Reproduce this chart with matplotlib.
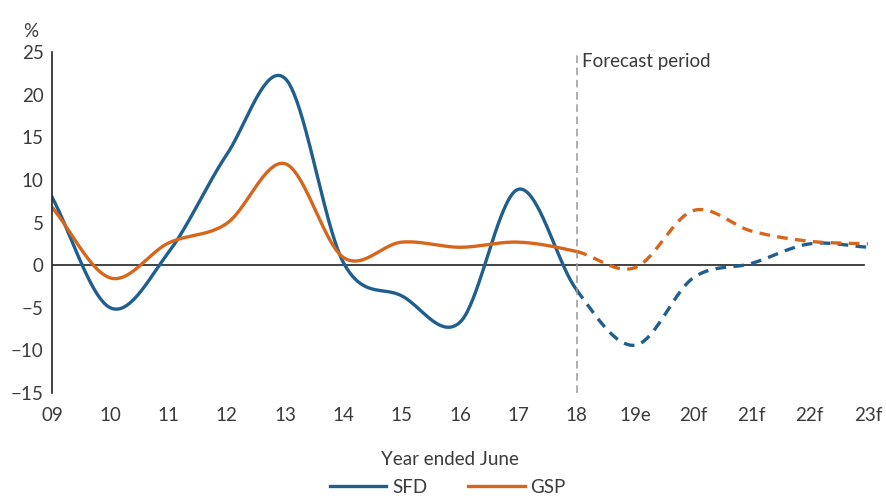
import numpy as np
import matplotlib.pyplot as plt

plt.rcParams['font.family'] = ['Lato', 'DejaVu Sans']

years = ['09', '10', '11', '12', '13', '14', '15', '16', '17', '18',
         '19e', '20f', '21f', '22f', '23f']
sfd = [8.0, -5.0, 1.5, 13.0, 21.9, 0.3, -3.6, -6.7, 8.9, -2.9,
       -9.4, -1.5, 0.2, 2.5, 2.1]
gsp = [6.8, -1.5, 2.6, 4.9, 11.9, 0.9, 2.7, 2.1, 2.7, 1.6,
       -0.3, 6.4, 4.0, 2.8, 2.5]
forecast_start = 9  # index of '18'

blue = '#1f5f8f'
orange = '#d6661c'
txt = '#3a3a3a'


def smooth(x, y, n=40):
    """Catmull-Rom curve through the points, like a spreadsheet smoothed line."""
    x = np.asarray(x, float)
    y = np.asarray(y, float)
    px = np.concatenate([[2 * x[0] - x[1]], x, [2 * x[-1] - x[-2]]])
    py = np.concatenate([[2 * y[0] - y[1]], y, [2 * y[-1] - y[-2]]])
    xs, ys = [], []
    t = np.linspace(0, 1, n, endpoint=False)
    for i in range(1, len(px) - 2):
        def cr(a, b, c, d):
            return 0.5 * (2 * b + (-a + c) * t + (2 * a - 5 * b + 4 * c - d) * t ** 2
                          + (-a + 3 * b - 3 * c + d) * t ** 3)
        xs.append(cr(px[i - 1], px[i], px[i + 1], px[i + 2]))
        ys.append(cr(py[i - 1], py[i], py[i + 1], py[i + 2]))
    xs.append([x[-1]])
    ys.append([y[-1]])
    return np.concatenate(xs), np.concatenate(ys)


fig = plt.figure(figsize=(8.87, 4.96), dpi=100)
ax = fig.add_axes([0.0586, 0.2077, 0.92, 0.6873])

xpos = np.arange(len(years))
for vals, col, name in [(sfd, blue, 'SFD'), (gsp, orange, 'GSP')]:
    sx, sy = smooth(xpos, vals)
    hist = sx <= forecast_start
    fc = sx >= forecast_start
    ax.plot(sx[hist], sy[hist], color=col, lw=2.4, label=name)
    ax.plot(sx[fc], sy[fc], color=col, lw=2.4, ls=(0, (3.2, 2.2)))

ax.axhline(0, color='#222222', lw=1.2, xmax=0.995, zorder=0)
ax.axvline(forecast_start, color='#999999', lw=1.1, ls=(0, (5, 3)))
ax.text(forecast_start + 0.09, 23.9, 'Forecast period', fontsize=13.5,
        color=txt, va='center', ha='left')

ax.set_xlim(0, len(years) - 1)
ax.set_ylim(-15, 25)
ax.set_yticks(range(-15, 26, 5))
ax.set_xticks(xpos)
ax.set_xticklabels(years)
ax.tick_params(length=0, labelsize=13.5, colors=txt, pad=6)
ax.tick_params(axis='x', pad=10)
for s in ['top', 'right', 'bottom']:
    ax.spines[s].set_visible(False)
ax.spines['left'].set_color('#222222')
ax.spines['left'].set_linewidth(1.2)

ax.text(-0.035, 1.045, '%', transform=ax.transAxes, fontsize=13.5,
        color=txt, ha='left')
fig.text(0.507, 0.062, 'Year ended June', ha='center', fontsize=13.5, color=txt)

leg = fig.legend(loc='center', bbox_to_anchor=(0.505, 0.018), ncol=2, frameon=False,
                 fontsize=13.5, handlelength=3.0, columnspacing=2.2, handletextpad=0.3)
for t in leg.get_texts():
    t.set_color(txt)

fig.savefig('out.png', dpi=100)
